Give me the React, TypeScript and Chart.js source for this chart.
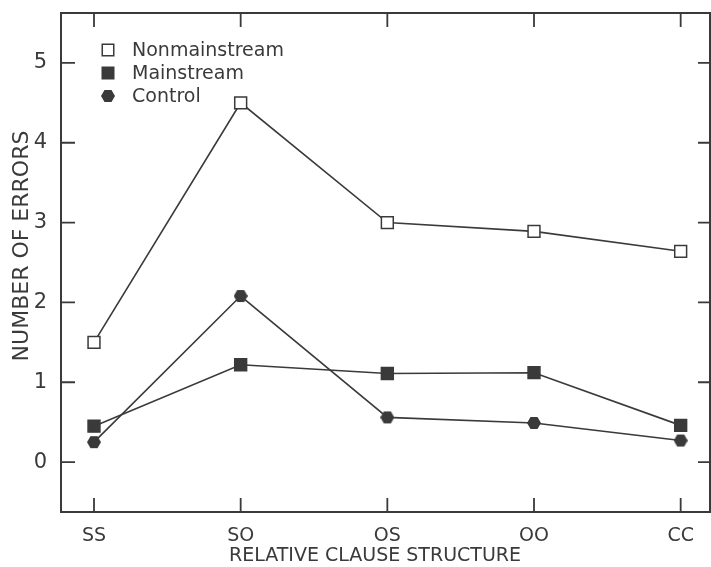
import { useEffect, useRef } from "react";
import { Chart, registerables } from "chart.js";

Chart.register(...registerables);

// Relative clause types along the x axis
const structures = ["SS", "SO", "OS", "OO", "CC"];
// Mean number of errors per group
const nonmainstream = [1.5, 4.5, 3.0, 2.89, 2.64];
const mainstream = [0.45, 1.22, 1.11, 1.12, 0.46];
const control = [0.25, 2.08, 0.56, 0.49, 0.27];
const seriesNames = ["Nonmainstream", "Mainstream", "Control"];
const yTicks = [0, 1, 2, 3, 4, 5];

const INK = "#3a3a3a";
const FONT = "'DejaVu Sans', sans-serif";

function makeHexagon(size: number): HTMLCanvasElement {
  const c = document.createElement("canvas");
  c.width = size;
  c.height = size;
  const g = c.getContext("2d")!;
  const r = size / 2;
  g.beginPath();
  for (let k = 0; k < 6; k++) {
    const a = (Math.PI / 3) * k;
    const px = r + r * Math.cos(a);
    const py = r + r * Math.sin(a);
    if (k === 0) g.moveTo(px, py);
    else g.lineTo(px, py);
  }
  g.closePath();
  g.fillStyle = INK;
  g.fill();
  return c;
}

// Box frame with inward ticks on all four sides, axis titles and the in-plot key
const framePlugin = {
  id: "frame",
  afterDraw(chart: any) {
    const { ctx, chartArea } = chart;
    const xs = chart.scales.x;
    const ys = chart.scales.y;
    const { left, right, top, bottom } = chartArea;
    ctx.save();
    ctx.strokeStyle = INK;
    ctx.lineWidth = 2;
    ctx.strokeRect(left, top, right - left, bottom - top);
    ctx.lineWidth = 1.8;
    ctx.beginPath();
    structures.forEach((_, i) => {
      const px = xs.getPixelForValue(i);
      ctx.moveTo(px, bottom);
      ctx.lineTo(px, bottom - 14);
      ctx.moveTo(px, top);
      ctx.lineTo(px, top + 14);
    });
    yTicks.forEach((v) => {
      const py = ys.getPixelForValue(v);
      ctx.moveTo(left, py);
      ctx.lineTo(left + 14, py);
      ctx.moveTo(right, py);
      ctx.lineTo(right - 12, py);
    });
    ctx.stroke();

    // Axis titles
    ctx.fillStyle = INK;
    ctx.textAlign = "center";
    ctx.textBaseline = "middle";
    ctx.font = `19px ${FONT}`;
    ctx.fillText("RELATIVE CLAUSE STRUCTURE", 375, 556);
    ctx.save();
    ctx.translate(22, 246);
    ctx.rotate(-Math.PI / 2);
    ctx.font = `22px ${FONT}`;
    ctx.fillText("NUMBER OF ERRORS", 0, 0);
    ctx.restore();

    // Key
    ctx.textAlign = "left";
    ctx.font = `19px ${FONT}`;
    chart.data.datasets.forEach((ds: any, i: number) => {
      const cy = top + 37 + i * 23;
      const cx = left + 47;
      const style = ds.pointStyle;
      if (style instanceof HTMLCanvasElement) {
        ctx.drawImage(style, cx - style.width / 2, cy - style.height / 2);
      } else {
        const s = 11.5;
        ctx.fillStyle = ds.pointBackgroundColor;
        ctx.strokeStyle = ds.pointBorderColor;
        ctx.lineWidth = 1.5;
        ctx.fillRect(cx - s / 2, cy - s / 2, s, s);
        ctx.strokeRect(cx - s / 2, cy - s / 2, s, s);
      }
      ctx.fillStyle = INK;
      ctx.fillText(ds.label, left + 71, cy + 1);
    });
    ctx.restore();
  },
};

const noPad = (s: any) => {
  s.paddingLeft = 0;
  s.paddingRight = 0;
  s.paddingTop = 0;
  s.paddingBottom = 0;
};

export default function App() {
  const ref = useRef<HTMLCanvasElement>(null);

  useEffect(() => {
    document.body.style.margin = "0";
    const hex = makeHexagon(14);
    const toPoints = (vals: number[]) => vals.map((y, x) => ({ x, y }));
    const common = {
      borderColor: INK,
      borderWidth: 1.6,
      pointBorderColor: INK,
      pointBorderWidth: 1.5,
      pointRadius: 8.4,
      tension: 0,
    };
    const chart = new Chart(ref.current!, {
      type: "line",
      data: {
        datasets: [
          {
            ...common,
            label: seriesNames[0],
            data: toPoints(nonmainstream),
            pointStyle: "rect",
            pointBackgroundColor: "#ffffff",
          },
          {
            ...common,
            label: seriesNames[1],
            data: toPoints(mainstream),
            pointStyle: "rect",
            pointBackgroundColor: INK,
          },
          {
            ...common,
            label: seriesNames[2],
            data: toPoints(control),
            pointStyle: hex as any,
            pointBackgroundColor: INK,
          },
        ] as any,
      },
      options: {
        animation: false,
        responsive: false,
        layout: { autoPadding: false, padding: { top: 13, right: 1, left: 0, bottom: 0 } },
        plugins: { legend: { display: false }, tooltip: { enabled: false } },
        scales: {
          x: {
            type: "linear",
            min: -0.225,
            max: 4.2,
            grid: { display: false },
            border: { display: false },
            afterBuildTicks: (s: any) => {
              s.ticks = structures.map((_, i) => ({ value: i }));
            },
            afterFit: (s: any) => {
              s.height = 55;
              noPad(s);
            },
            ticks: {
              callback: (v: any) => structures[v] ?? "",
              color: INK,
              font: { family: FONT, size: 19 },
              padding: 5,
              maxRotation: 0,
              autoSkip: false,
            },
          },
          y: {
            type: "linear",
            min: -0.625,
            max: 5.625,
            grid: { display: false },
            border: { display: false },
            afterBuildTicks: (s: any) => {
              s.ticks = yTicks.map((v) => ({ value: v }));
            },
            afterFit: (s: any) => {
              s.width = 61;
              noPad(s);
            },
            ticks: {
              color: INK,
              font: { family: FONT, size: 21 },
              padding: 6,
            },
          },
        },
      },
      plugins: [framePlugin],
    });
    return () => chart.destroy();
  }, []);

  return <canvas ref={ref} width={711} height={567} style={{ display: "block" }} />;
}
